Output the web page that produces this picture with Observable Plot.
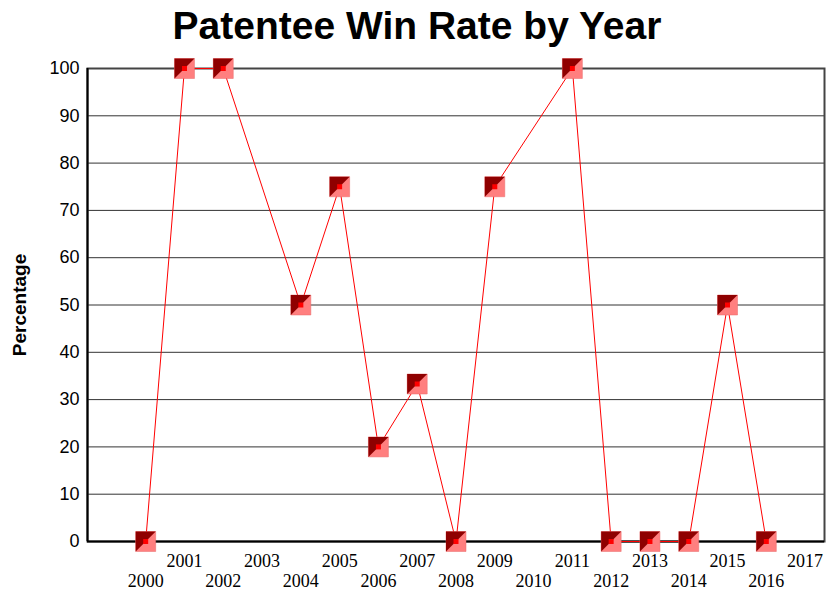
<!DOCTYPE html>
<html>
<head>
<meta charset="utf-8">
<script src="https://cdn.jsdelivr.net/npm/d3@7"></script>
<script src="https://cdn.jsdelivr.net/npm/@observablehq/plot@0.6"></script>
<style>
  html, body { margin: 0; padding: 0; background: #fff; }
  #title { width: 826px; height: 52px; line-height: 52px; text-align: center; padding-left: 8px; box-sizing: border-box;
           font-family: "Liberation Sans", Arial, sans-serif; font-weight: bold; font-size: 39px; color: #000; }
</style>
</head>
<body>
<div id="title">Patentee Win Rate by Year</div>
<div id="chart"></div>
<script>
const years = [2000, 2001, 2002, 2004, 2005, 2006, 2007, 2008, 2009, 2011, 2012, 2013, 2014, 2015, 2016];
const rates = [0, 100, 100, 50, 75, 20, 33.3, 0, 75, 100, 0, 0, 0, 50, 0];
const tickYears = [2000, 2001, 2002, 2003, 2004, 2005, 2006, 2007, 2008, 2009, 2010, 2011, 2012, 2013, 2014, 2015, 2016, 2017];
const yTicks = [0, 10, 20, 30, 40, 50, 60, 70, 80, 90, 100];
const yLabel = "Percentage";

const data = years.map((y, i) => ({year: y, rate: rates[i]}));
const oddYears = tickYears.filter(y => y % 2 === 1);
const evenYears = tickYears.filter(y => y % 2 === 0);

const upperLeft = {
  draw(context, size) {
    const h = Math.sqrt(size) / 2;
    context.moveTo(-h, -h);
    context.lineTo(h, -h);
    context.lineTo(-h, h);
    context.closePath();
  }
};
const side = 20;
const rBig = side / Math.sqrt(Math.PI);
const rSmall = 5 / Math.sqrt(Math.PI);

const serif = "'Liberation Serif', 'Times New Roman', serif";
const sans = "'Liberation Sans', Arial, sans-serif";

const chart = Plot.plot({
  width: 826,
  height: 538,
  marginLeft: 87,
  marginRight: 2,
  marginTop: 16,
  marginBottom: 49,
  style: {fontFamily: sans, background: "#fff", color: "#000"},
  x: {domain: [1998.5, 2017.5], axis: null},
  y: {domain: [0, 100], axis: null},
  marks: [
    Plot.gridY(yTicks, {stroke: "#333", strokeOpacity: 1, strokeWidth: 1}),
    Plot.frame({stroke: "#444", strokeWidth: 2}),
    Plot.ruleX([1998.5], {stroke: "#000", strokeWidth: 2}),
    Plot.ruleY([0], {stroke: "#000", strokeWidth: 2}),
    Plot.axisY({ticks: yTicks, tickSize: 0, tickPadding: 8, fontSize: 18, fontFamily: sans, label: null}),
    Plot.axisX({ticks: oddYears, tickSize: 0, tickPadding: 13, fontSize: 18, fontFamily: serif, tickFormat: d => String(d), label: null}),
    Plot.axisX({ticks: evenYears, tickSize: 0, tickPadding: 33, fontSize: 18, fontFamily: serif, tickFormat: d => String(d), label: null}),
    Plot.text([yLabel], {frameAnchor: "left", textAnchor: "middle", rotate: -90, dx: -68, fontSize: 19, fontWeight: "bold", fontFamily: sans, fill: "#000", lineAnchor: "middle"}),
    Plot.line(data, {x: "year", y: "rate", stroke: "#ff0000", strokeWidth: 1}),
    Plot.dot(data, {x: "year", y: "rate", symbol: "square", r: rBig, fill: "#ff7f7f", stroke: "#e86a6a", strokeWidth: 0.5}),
    Plot.dot(data, {x: "year", y: "rate", symbol: upperLeft, r: rBig, fill: "#8f0000"}),
    Plot.dot(data, {x: "year", y: "rate", symbol: "square", r: rSmall, fill: "#ff0000"})
  ]
});
document.getElementById("chart").appendChild(chart);
</script>
</body>
</html>
